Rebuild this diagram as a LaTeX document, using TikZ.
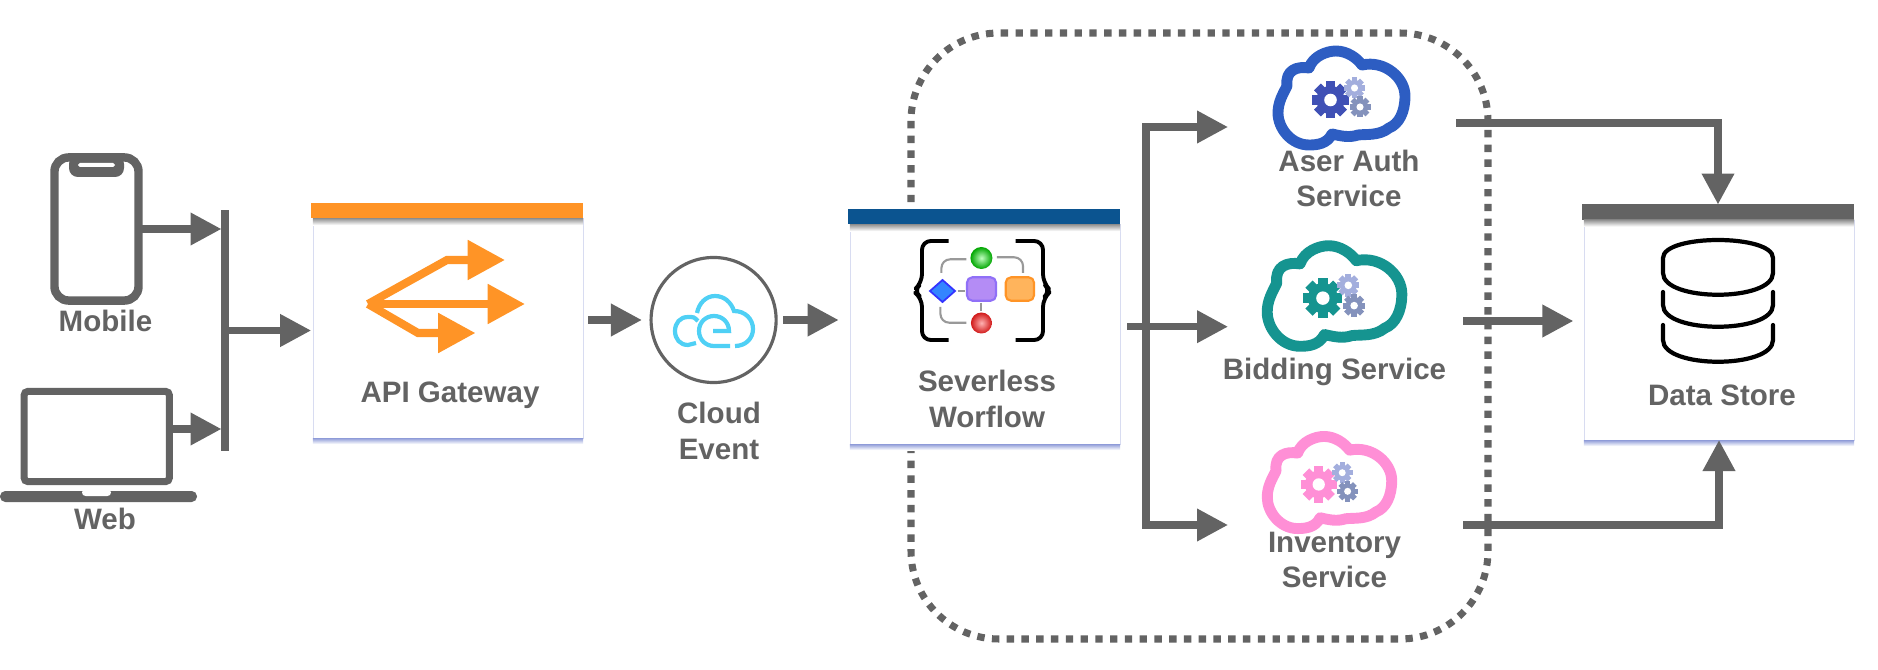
\documentclass[tikz,border=0pt]{standalone}
\usepackage{fontspec}
\setmainfont{Liberation Sans}
\usepackage{xcolor}
\usetikzlibrary{arrows.meta,shapes.geometric,positioning,calc}
\definecolor{inkgrey}{HTML}{636363}
\definecolor{apiorange}{HTML}{FF9426}
\definecolor{flowblue}{HTML}{0B5490}
\definecolor{edgeblue}{HTML}{8F9CD8}
\definecolor{ceblue}{HTML}{4FD0F5}
\definecolor{authblue}{HTML}{2D5DC2}
\definecolor{authgear}{HTML}{3F50B5}
\definecolor{bidteal}{HTML}{159490}
\definecolor{invpink}{HTML}{FF8FD6}
\definecolor{gearlight}{HTML}{A3AEDD}
\definecolor{geardark}{HTML}{8492BC}
\definecolor{stepviolet}{HTML}{B48CF5}
\definecolor{stepamber}{HTML}{FFB45C}
\tikzset{
    lbl/.style={font=\fontsize{8.4}{10}\selectfont\bfseries, text=inkgrey, align=center, inner sep=0pt},
    conn/.style={draw=inkgrey, line width=2pt, -{Triangle[length=8.8pt,width=8.8pt]}},
    card/.style={draw=edgeblue!35, line width=0.2pt, fill=white, inner sep=0pt, outer sep=0pt, minimum width=2.70cm, minimum height=2.20cm},
    cardbar/.style={inner sep=0pt, outer sep=0pt, minimum width=2.72cm, minimum height=0.15cm},
    apiarrow/.style={draw=apiorange, line width=2.3pt, -{Triangle[length=10.6pt,width=10.8pt]}},
    celine/.style={draw=ceblue, line width=1.2pt},
    dbline/.style={draw=black, line width=1.2pt, line cap=round},
    wire/.style={draw=black!40, line width=0.6pt, rounded corners=2.5pt},
}
\newcommand{\cardshade}[2]{% card, bar
    \shade[top color=edgeblue, bottom color=white] (#1.south west) rectangle ([yshift=-1.7pt]#1.south east);
    \shade[top color=black!45, bottom color=white] (#2.south west -| #1.west) rectangle ([yshift=-2pt]#2.south -| #1.east);
}
\newcommand{\gearmark}[4]{% x, y, radius, colour
    \pgfmathsetmacro{\toothw}{0.26*#3}
    \fill[#4] (#1,#2) circle (0.76*#3);
    \foreach \a in {0,45,90,135}
        \fill[#4, shift={(#1,#2)}, rotate=\a] (-\toothw,-#3) rectangle (\toothw,#3);
    \fill[white] (#1,#2) circle (0.34*#3);
}
\newcommand{\svccloud}[6]{% x, y, x scale, y scale, colour, gear colour
    \begin{scope}[shift={(#1,#2)}, xscale=#3, yscale=#4]
        \draw[#5, line width=3.1pt, line join=round]
            (-54,-12) .. controls (-56,-28) and (-44,-32) .. (-32,-30)
            .. controls (-28,-42) and (-14,-47) .. (-5,-47)
            .. controls (6,-47) and (16,-40) .. (21,-33)
            .. controls (44,-38) and (64,-20) .. (64,-2)
            .. controls (64,14) and (58,26) .. (48,30)
            .. controls (38,38) and (25,36) .. (17,37)
            .. controls (8,40) and (0,38) .. (-9,36)
            .. controls (-14,46) and (-24,47) .. (-32,47)
            .. controls (-50,47) and (-63,30) .. (-63,15)
            .. controls (-63,4) and (-58,-4) .. (-54,-12) -- cycle;
        \fill[white] (-41,-16) circle (7);
        \gearmark{-10.5}{2}{18.5}{#6}
        \gearmark{13.5}{-10}{10.5}{gearlight}
        \gearmark{19}{9}{10.5}{geardark}
    \end{scope}
}
\begin{document}
\begin{tikzpicture}[x=0.01cm, y=-0.01cm]
    \useasboundingbox (0,0) rectangle (1878,670);

    % dotted group behind everything
    \draw[inkgrey, line width=2pt, dash pattern=on 2.1pt off 2.1pt, rounded corners=25pt] (911,33) rectangle (1488,639);

    % cards
    \node[card] (api) at (448,328) {};
    \node[cardbar, fill=apiorange] (apibar) at (447,210.5) {};
    \cardshade{api}{apibar}
    \node[card] (flow) at (985,334) {};
    \node[cardbar, fill=flowblue] (flowbar) at (984,216.5) {};
    \cardshade{flow}{flowbar}
    \node[card] (data) at (1719,330) {};
    \node[cardbar, fill=inkgrey] (databar) at (1718,212) {};
    \cardshade{data}{databar}

    % phone
    \node[draw=inkgrey, line width=2.4pt, rounded corners=4pt, minimum width=0.84cm, minimum height=1.43cm, outer sep=0pt] (phone) at (96.5,229) {};
    \fill[inkgrey, rounded corners=2.5pt] (69,155) rectangle (124,177);
    \fill[white, rounded corners=0.5pt] (78,163) rectangle (115,167);
    \node[lbl] (mobile) at (105.5,321) {Mobile};

    % laptop
    \node[draw=inkgrey, line width=2pt, rounded corners=1pt, minimum width=1.45cm, minimum height=0.90cm, outer sep=0pt] (screen) at (96.75,436.5) {};
    \fill[inkgrey, rounded corners=1.5pt] (0,491) -- (0,502) -- (197,502) -- (197,491) -- cycle;
    \fill[white, rounded corners=1pt] (82,489) rectangle (111,496);
    \node[lbl] (web) at (105,519) {Web};

    % bus
    \node[fill=inkgrey, inner sep=0pt, outer sep=0pt, minimum width=0.07cm, minimum height=2.41cm] (bus) at (225,330.5) {};
    \coordinate (webout) at (173,429);
    \draw[conn] (phone.east) -- (phone.east -| bus.west);
    \draw[conn] (webout) -- (webout -| bus.west);
    \draw[conn, shorten >=0.5pt] (bus.east) -- (bus.east -| api.west);

    % api icon
    \draw[apiarrow] (368,304) -- (447,260) -- (505,260);
    \draw[apiarrow] (368,304) -- (525,304);
    \draw[apiarrow] (368,304) -- (418,333) -- (475.5,333);
    \node[lbl] (apilbl) at (450,395) {API Gateway};

    % cloud event
    \node[circle, draw=inkgrey, line width=0.9pt, minimum size=1.25cm, inner sep=0pt, outer sep=0pt] (ce) at (713.6,320) {};
    \draw[celine] (713,331) -- (729,331) .. controls (729,322) and (722,316) .. (714,316)
        .. controls (706,316) and (699,322) .. (699,331) .. controls (699,340) and (706,346) .. (714,346) -- (730,346);
    \draw[celine] (698,321) .. controls (694,317) .. (688,317) .. controls (680,317) and (675,323) .. (675,331)
        .. controls (675,339) and (680,345) .. (688,345) .. controls (692,345) .. (696,343);
    \draw[celine] (697,313) .. controls (699,303) and (706,296) .. (715,296) .. controls (724,296) and (731,302) .. (734,311)
        .. controls (745,311) and (753,319) .. (753,329) .. controls (753,339) and (745,346) .. (735,346);
    \node[lbl] (celbl) at (719,431) {Cloud\\Event};
    \draw[conn, shorten <=1.4pt, shorten >=2.6pt] (ce.west -| api.east) -- (ce.west);
    \draw[conn, shorten <=2pt, shorten >=3.2pt] (ce.east) -- (ce.east -| flow.west);

    % workflow icon
    \draw[black, line width=1.1pt, line join=round, rounded corners=2.5pt] (948.6,241) -- (922,241) -- (922,283) -- (913,291) -- (922,298) -- (922,340) -- (948.6,340);
    \draw[black, line width=1.1pt, line join=round, rounded corners=2.5pt] (1015.7,241) -- (1043,241) -- (1043,283) -- (1051,291) -- (1043,298) -- (1043,340) -- (1015.7,340);
    \draw[wire] (966.4,259.3) -- (941.4,259.3) -- (941.4,273);
    \draw[wire] (996.8,257.3) -- (1023,257.3) -- (1023,273);
    \draw[wire] (940.4,307) -- (940.4,322.7) -- (966.4,322.7);
    \draw[wire] (957.5,291) -- (964.6,291);
    \draw[wire] (981.4,303) -- (981.4,311);
    \shade[inner color=green!25!white, outer color=green!65!black] (981.4,258) circle (11);
    \shade[inner color=red!30!white, outer color=red!80!black!90] (981.4,323) circle (10.5);
    \fill[blue!60!cyan!80!white, draw=blue!80!white, line width=0.5pt] (930,291) -- (942.5,280) -- (955,291) -- (942.5,302) -- cycle;
    \fill[stepviolet, draw=stepviolet!80!blue, line width=0.6pt, rounded corners=1.5pt] (967,277.3) rectangle (996,300.7);
    \fill[stepamber, draw=apiorange, line width=0.6pt, rounded corners=1.5pt] (1005.7,277.3) rectangle (1034,300.7);
    \node[lbl] (flowlbl) at (987,399) {Severless\\Worflow};

    % services
    \svccloud{1341}{98}{1}{1}{authblue}{authgear}
    \svccloud{1334}{296}{1.06}{1.07}{bidteal}{bidteal}
    \svccloud{1329}{482.5}{0.98}{0.98}{invpink}{invpink}
    \node[lbl] (authlbl) at (1349,178.5) {Aser Auth\\Service};
    \node[lbl] (bidlbl) at (1334.5,372) {Bidding Service};
    \node[lbl] (invlbl) at (1334.5,560) {Inventory\\Service};

    % hub and outputs
    \coordinate (authin) at (1228,127);
    \coordinate (invin) at (1228,525);
    \coordinate (hub) at (1146,326.7);
    \coordinate (flowout) at (1127,326.7);
    \coordinate (bidin) at (1228,326.7);
    \coordinate (authout) at (1456,123);
    \coordinate (bidout) at (1463,321);
    \coordinate (invout) at (1463,525);
    \draw[conn] (flowout) -- (bidin);
    \draw[conn, {Triangle[length=8.8pt,width=8.8pt]}-{Triangle[length=8.8pt,width=8.8pt]}] (authin) -- (hub |- authin) -- (hub |- invin) -- (invin);
    \draw[conn] (authout) -| (databar.north);
    \draw[conn, shorten >=3pt] (bidout) -- (bidout -| data.west);
    \draw[conn] (invout) -| (data.south);

    % data store icon
    \draw[dbline] (1663,258) .. controls (1663,234) and (1773,234) .. (1773,258) -- (1773,273)
        .. controls (1773,302) and (1663,302) .. (1663,273) -- cycle;
    \draw[dbline] (1663,292) -- (1663,305) .. controls (1663,334) and (1773,334) .. (1773,305) -- (1773,292);
    \draw[dbline] (1663,325) -- (1663,340) .. controls (1663,369) and (1773,369) .. (1773,340) -- (1773,325);
    \node[lbl] (datalbl) at (1722,395) {Data Store};
\end{tikzpicture}
\end{document}
